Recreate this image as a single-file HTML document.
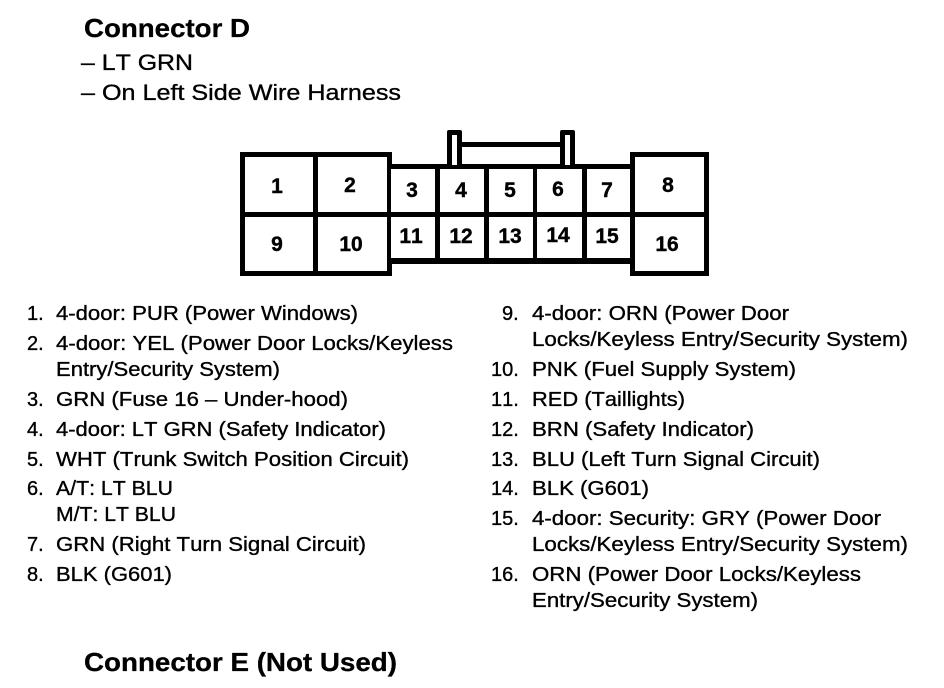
<!DOCTYPE html>
<html>
<head>
<meta charset="utf-8">
<style>
html,body{margin:0;padding:0;background:#fff;width:944px;height:688px;overflow:hidden}
svg{display:block}
text{font-family:"Liberation Sans",sans-serif;fill:#000;font-kerning:none}
.t{font-size:20px;stroke:#000;stroke-width:.35px}
.h{font-size:26px;font-weight:bold;stroke:#000;stroke-width:.3px}
.s{font-size:22.5px;stroke:#000;stroke-width:.35px}
.d{font-size:21px;font-weight:bold;text-anchor:middle;stroke:#000;stroke-width:.4px}
</style>
</head>
<body>
<svg width="944" height="688" viewBox="0 0 944 688" xmlns="http://www.w3.org/2000/svg">
<text class="h" x="84" y="37" textLength="166" lengthAdjust="spacingAndGlyphs">Connector D</text>
<text class="s" x="81" y="70" textLength="112" lengthAdjust="spacingAndGlyphs">– LT GRN</text>
<text class="s" x="81" y="100" textLength="320" lengthAdjust="spacingAndGlyphs">– On Left Side Wire Harness</text>

<g fill="#000">
<!-- tabs -->
<rect x="447" y="130" width="15" height="36" rx="2"/>
<rect x="560" y="130" width="15" height="36" rx="2"/>
<rect x="462" y="142" width="98" height="5"/>
<!-- outer blocks -->
<rect x="240" y="152" width="152" height="124"/>
<rect x="630" y="152" width="79" height="124"/>
<rect x="388" y="164" width="246" height="100"/>
</g>
<g fill="#fff">
<rect x="452" y="135" width="5" height="30"/>
<rect x="565" y="135" width="5" height="30"/>
<!-- top row -->
<rect x="245" y="157" width="68" height="55"/>
<rect x="318" y="157" width="69" height="55"/>
<rect x="391" y="169" width="44" height="43"/>
<rect x="440" y="169" width="44" height="43"/>
<rect x="489" y="169" width="44" height="43"/>
<rect x="537" y="169" width="45" height="43"/>
<rect x="587" y="169" width="43" height="43"/>
<rect x="635" y="157" width="69" height="55"/>
<!-- bottom row -->
<rect x="245" y="217" width="68" height="54"/>
<rect x="318" y="217" width="69" height="54"/>
<rect x="391" y="217" width="44" height="41"/>
<rect x="440" y="217" width="44" height="41"/>
<rect x="489" y="217" width="44" height="41"/>
<rect x="537" y="217" width="45" height="41"/>
<rect x="587" y="217" width="43" height="41"/>
<rect x="635" y="217" width="69" height="54"/>
</g>
<g>
<text class="d" x="277" y="193">1</text>
<text class="d" x="350" y="192">2</text>
<text class="d" x="412" y="197">3</text>
<text class="d" x="461" y="197">4</text>
<text class="d" x="510" y="197">5</text>
<text class="d" x="558" y="196">6</text>
<text class="d" x="607" y="197">7</text>
<text class="d" x="668" y="192">8</text>
<text class="d" x="277" y="251">9</text>
<text class="d" x="351" y="251">10</text>
<text class="d" x="411" y="243">11</text>
<text class="d" x="461" y="243">12</text>
<text class="d" x="510" y="243">13</text>
<text class="d" x="558" y="242">14</text>
<text class="d" x="607" y="243">15</text>
<text class="d" x="667" y="251">16</text>
</g>

<g class="t">
<text class="t" x="27" y="320">1.</text>
<text class="t" x="56" y="320" textLength="302" lengthAdjust="spacingAndGlyphs">4-door: PUR (Power Windows)</text>
<text class="t" x="27" y="350">2.</text>
<text class="t" x="56" y="350" textLength="397" lengthAdjust="spacingAndGlyphs">4-door: YEL (Power Door Locks/Keyless</text>
<text class="t" x="56" y="376" textLength="224" lengthAdjust="spacingAndGlyphs">Entry/Security System)</text>
<text class="t" x="27" y="406">3.</text>
<text class="t" x="56" y="406" textLength="292" lengthAdjust="spacingAndGlyphs">GRN (Fuse 16 – Under-hood)</text>
<text class="t" x="27" y="436">4.</text>
<text class="t" x="56" y="436" textLength="330" lengthAdjust="spacingAndGlyphs">4-door: LT GRN (Safety Indicator)</text>
<text class="t" x="27" y="466">5.</text>
<text class="t" x="56" y="466" textLength="353" lengthAdjust="spacingAndGlyphs">WHT (Trunk Switch Position Circuit)</text>
<text class="t" x="27" y="495">6.</text>
<text class="t" x="56" y="495" textLength="117" lengthAdjust="spacingAndGlyphs">A/T: LT BLU</text>
<text class="t" x="56" y="521" textLength="120" lengthAdjust="spacingAndGlyphs">M/T: LT BLU</text>
<text class="t" x="27" y="551">7.</text>
<text class="t" x="56" y="551" textLength="310" lengthAdjust="spacingAndGlyphs">GRN (Right Turn Signal Circuit)</text>
<text class="t" x="27" y="581">8.</text>
<text class="t" x="56" y="581" textLength="116" lengthAdjust="spacingAndGlyphs">BLK (G601)</text>

<text class="t" x="502" y="320">9.</text>
<text class="t" x="532" y="320" textLength="257" lengthAdjust="spacingAndGlyphs">4-door: ORN (Power Door</text>
<text class="t" x="532" y="346" textLength="376" lengthAdjust="spacingAndGlyphs">Locks/Keyless Entry/Security System)</text>
<text class="t" x="491" y="376">10.</text>
<text class="t" x="532" y="376" textLength="264" lengthAdjust="spacingAndGlyphs">PNK (Fuel Supply System)</text>
<text class="t" x="491" y="406">11.</text>
<text class="t" x="532" y="406" textLength="153" lengthAdjust="spacingAndGlyphs">RED (Taillights)</text>
<text class="t" x="491" y="436">12.</text>
<text class="t" x="532" y="436" textLength="222" lengthAdjust="spacingAndGlyphs">BRN (Safety Indicator)</text>
<text class="t" x="491" y="466">13.</text>
<text class="t" x="532" y="466" textLength="288" lengthAdjust="spacingAndGlyphs">BLU (Left Turn Signal Circuit)</text>
<text class="t" x="491" y="495">14.</text>
<text class="t" x="532" y="495" textLength="117" lengthAdjust="spacingAndGlyphs">BLK (G601)</text>
<text class="t" x="491" y="525">15.</text>
<text class="t" x="532" y="525" textLength="349" lengthAdjust="spacingAndGlyphs">4-door: Security: GRY (Power Door</text>
<text class="t" x="532" y="551" textLength="376" lengthAdjust="spacingAndGlyphs">Locks/Keyless Entry/Security System)</text>
<text class="t" x="491" y="581">16.</text>
<text class="t" x="532" y="581" textLength="329" lengthAdjust="spacingAndGlyphs">ORN (Power Door Locks/Keyless</text>
<text class="t" x="532" y="607" textLength="226" lengthAdjust="spacingAndGlyphs">Entry/Security System)</text>
</g>

<text class="h" x="84" y="671" textLength="313" lengthAdjust="spacingAndGlyphs">Connector E (Not Used)</text>
</svg>
</body>
</html>
